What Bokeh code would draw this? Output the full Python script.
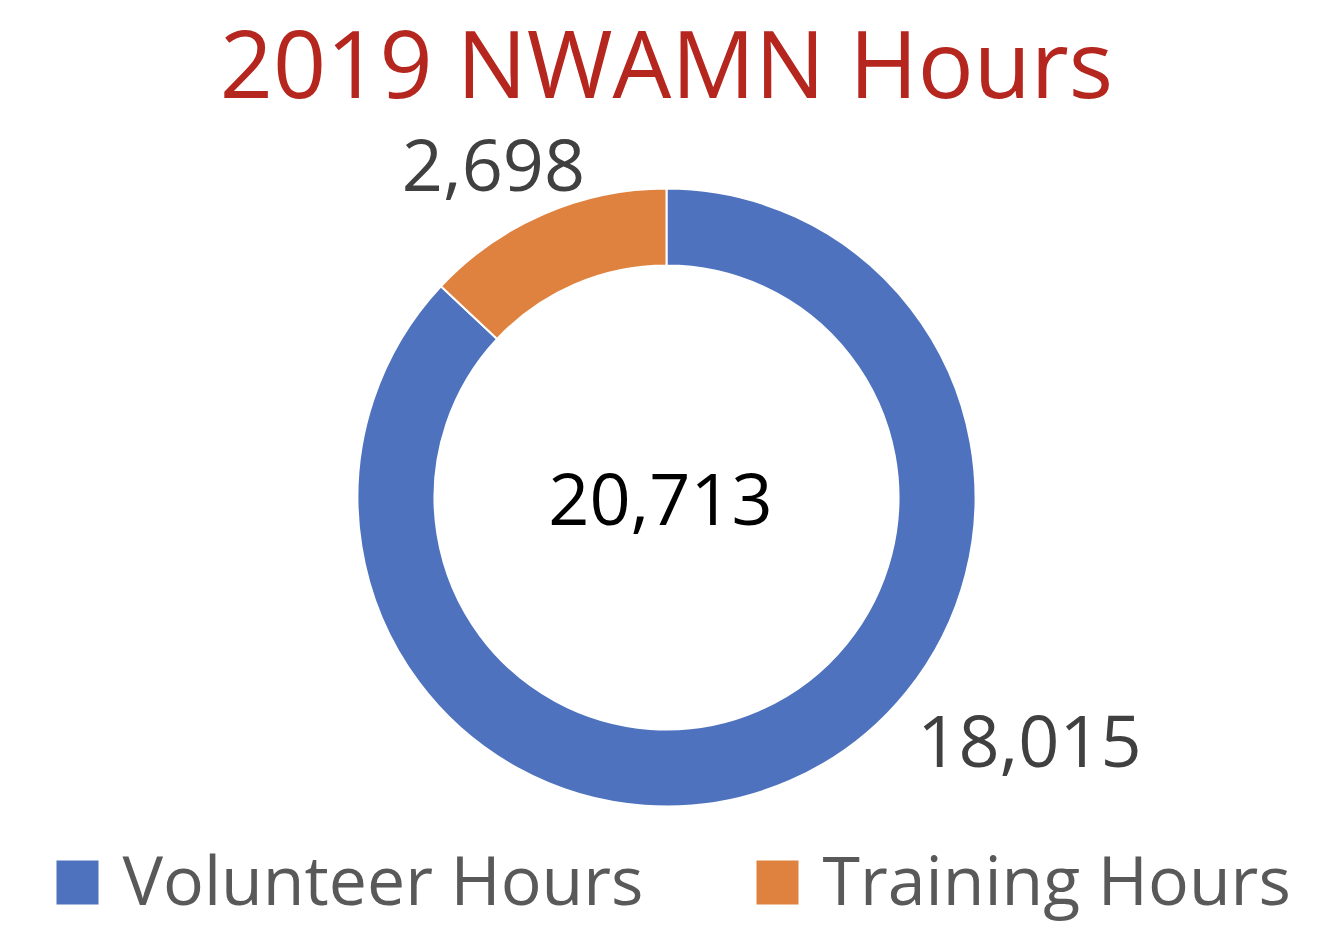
import math
from bokeh.plotting import figure
from bokeh.models import Range1d, ColumnDataSource
from bokeh.core.properties import value
from bokeh.embed import file_html
from bokeh.resources import INLINE

# ---- data ----
categories = ["Volunteer Hours", "Training Hours"]
hours = [18015, 2698]
colors = ["#4E72BE", "#E0823F"]
title_text = "2019 NWAMN Hours"
total = sum(hours)

FONT = "Open Sans"

W, H = 1314, 928
p = figure(width=W, height=H, output_backend="svg", toolbar_location=None,
           x_range=Range1d(0, W), y_range=Range1d(-H, 0),
           min_border=0, outline_line_color=None)
p.axis.visible = False
p.grid.visible = False
p.background_fill_color = "white"
p.border_fill_color = "white"

# donut geometry (y negated so that y grows downward on screen)
cx, cy = 666, -497
r_out, r_in = 309, 232

# Training slice goes counter-clockwise from 12 o'clock, volunteer takes rest
train_frac = hours[1] / total
a0 = math.pi / 2
a1 = a0 + 2 * math.pi * train_frac
a2 = a0 + 2 * math.pi
src = ColumnDataSource(dict(
    start=[a1, a0], end=[a2, a1], color=colors, name=categories))
p.annular_wedge(x=cx, y=cy, inner_radius=r_in, outer_radius=r_out,
                start_angle="start", end_angle="end", fill_color="color",
                line_color="white", line_width=2, source=src)

# title
p.text(x=[666], y=[-61], text=[title_text], text_font=value(FONT),
       text_font_size="93px", text_color="#B4261E",
       text_align="center", text_baseline="middle")

# data labels
p.text(x=[493, 1029], y=[-164, -740],
       text=[f"{hours[1]:,}", f"{hours[0]:,}"], text_font=value(FONT),
       text_font_size="72px", text_color="#404040",
       text_align="center", text_baseline="middle")

# center total
p.text(x=[660], y=[-498], text=[f"{total:,}"], text_font=value(FONT),
       text_font_size="72px", text_color="#000000",
       text_align="center", text_baseline="middle")

# legend
leg_sq_x = [77, 777]
leg_tx_x = [122, 822]
p.rect(x=leg_sq_x, y=[-882, -882], width=42, height=44,
       fill_color=colors, line_color=None)
p.text(x=leg_tx_x, y=[-878, -878], text=categories, text_font=value(FONT),
       text_font_size="68px", text_color="#595959",
       text_align="left", text_baseline="middle")

open("out.html", "w").write(file_html(p, INLINE))
